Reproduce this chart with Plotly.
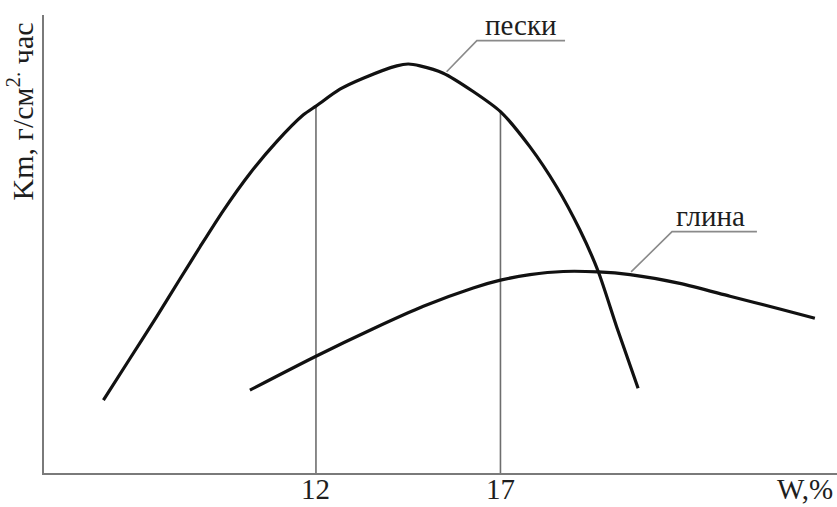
import plotly.graph_objects as go

# Moisture W, % and Km values for sands (пески)
sand_w = [6.24, 6.96, 7.68, 8.31, 8.86, 9.49, 10.21, 10.93, 11.66, 12.0, 12.65,
          13.28, 14.19, 14.5, 14.82, 15.45, 16.26, 17.0, 17.80, 18.52, 19.15,
          19.65, 20.15, 20.73]
sand_k = [1.59, 2.50, 3.41, 4.23, 4.94, 5.73, 6.54, 7.23, 7.82, 8.01, 8.38,
          8.62, 8.89, 8.93, 8.89, 8.73, 8.33, 7.89, 7.12, 6.25, 5.31,
          4.40, 3.19, 1.85]

# Moisture W, % and Km values for clay (глина)
clay_w = [10.21, 12.0, 13.55, 14.91, 16.26, 17.0, 17.80, 18.70, 19.65, 20.51,
          21.86, 23.22, 24.57, 25.52]
clay_k = [1.81, 2.55, 3.15, 3.64, 4.04, 4.21, 4.33, 4.40, 4.39, 4.33,
          4.14, 3.86, 3.58, 3.38]

# Marked moisture values (vertical guides) and their labels
guide_w = [12, 17]
tick_text = ["12", "17"]

# Leader lines for the curve captions
sand_leader_w = [15.54, 16.36, 18.75]
sand_leader_k = [8.76, 9.44, 9.44]
clay_leader_w = [20.54, 21.65, 23.95]
clay_leader_k = [4.39, 5.27, 5.27]

FONT = "Liberation Serif"
TEXT = "#1e1e1e"
AXIS = "#7a7a7a"

fig = go.Figure()

# vertical guides from the axis up to the sand curve
for w in guide_w:
    k = sand_k[sand_w.index(float(w))]
    fig.add_trace(go.Scatter(x=[w, w], y=[0, k], mode="lines",
                             line=dict(color="#6e6e6e", width=1.6),
                             hoverinfo="skip", showlegend=False))

fig.add_trace(go.Scatter(x=sand_leader_w, y=sand_leader_k, mode="lines",
                         line=dict(color="#8a8a8a", width=1.6),
                         hoverinfo="skip", showlegend=False))
fig.add_trace(go.Scatter(x=clay_leader_w, y=clay_leader_k, mode="lines",
                         line=dict(color="#8a8a8a", width=1.6),
                         hoverinfo="skip", showlegend=False))

fig.add_trace(go.Scatter(x=sand_w, y=sand_k, mode="lines", name="пески",
                         line=dict(color="#111111", width=3.2, shape="spline",
                                   smoothing=0.7),
                         showlegend=False))
fig.add_trace(go.Scatter(x=clay_w, y=clay_k, mode="lines", name="глина",
                         line=dict(color="#111111", width=3.2, shape="spline",
                                   smoothing=0.7),
                         showlegend=False))

fig.add_annotation(x=17.55, y=sand_leader_k[-1], text="пески", showarrow=False,
                   xanchor="center", yanchor="bottom", yshift=-2,
                   font=dict(family=FONT, size=29, color=TEXT))
fig.add_annotation(x=22.7, y=clay_leader_k[-1], text="глина", showarrow=False,
                   xanchor="center", yanchor="bottom", yshift=-2,
                   font=dict(family=FONT, size=29, color=TEXT))

# labels under the axis at the marked moisture values
for w, t in zip(guide_w, tick_text):
    fig.add_annotation(x=w, y=0, text=t, showarrow=False,
                       xanchor="center", yanchor="top", yshift=2,
                       font=dict(family=FONT, size=29, color=TEXT))

# axis captions
fig.add_annotation(x=25.25, y=0, text="W,%", showarrow=False,
                   xanchor="center", yanchor="top", yshift=2,
                   font=dict(family=FONT, size=29, color=TEXT))
fig.add_annotation(xref="paper", yref="paper", x=-0.03, y=0.79,
                   text="Km, г/см<sup>2.</sup> час", textangle=-90,
                   showarrow=False, xanchor="center", yanchor="middle",
                   font=dict(family=FONT, size=30, color=TEXT))

fig.update_xaxes(range=[4.63, 26.12], showgrid=False, zeroline=False,
                 showline=True, linecolor=AXIS, linewidth=2.2,
                 showticklabels=False, ticks="", automargin=False)
fig.update_yaxes(range=[0, 10], showgrid=False, zeroline=False,
                 showline=True, linecolor=AXIS, linewidth=2.2,
                 automargin=False, showticklabels=False, ticks="")

fig.update_layout(width=837, height=507,
                  margin=dict(l=44, r=0, t=15, b=34, autoexpand=False),
                  paper_bgcolor="white", plot_bgcolor="white")

fig.write_html("out.html")
